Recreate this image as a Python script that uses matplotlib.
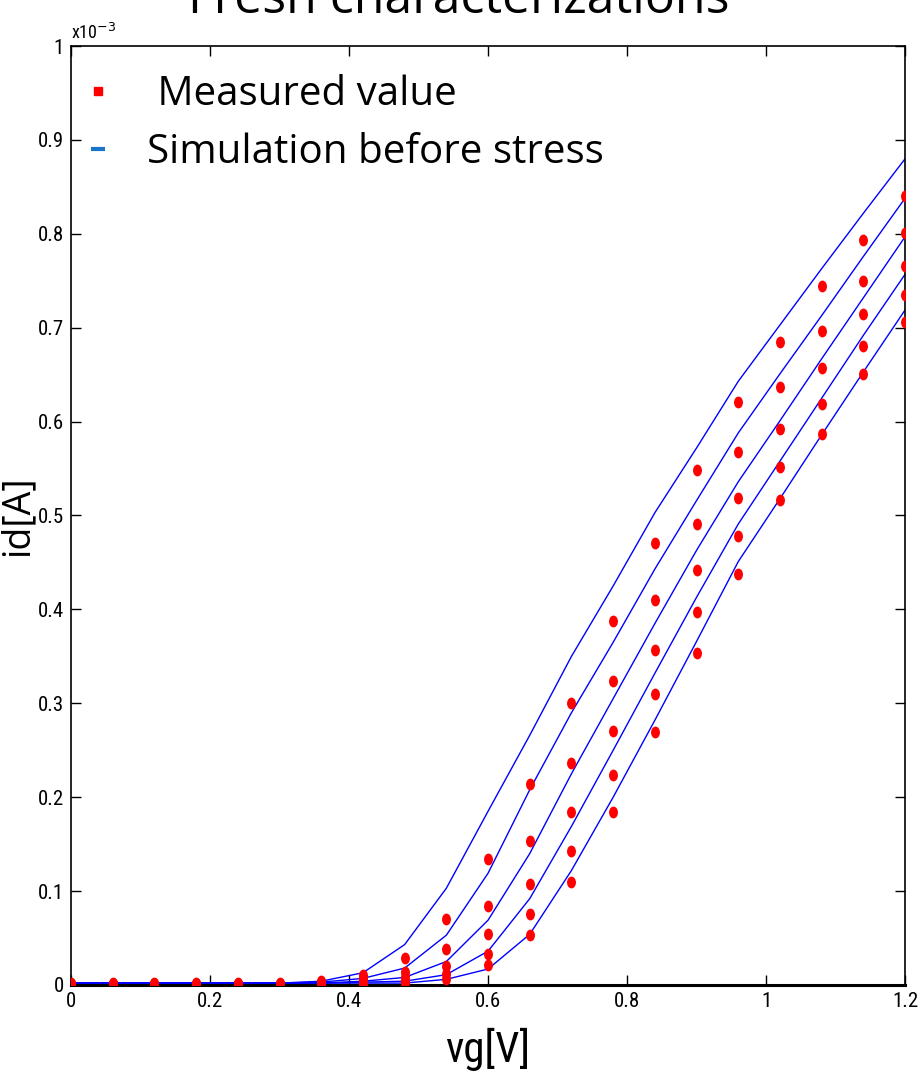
# id-vg curves: measured points vs simulation before stress
import matplotlib
matplotlib.use("Agg")
import matplotlib.pyplot as plt
from matplotlib.lines import Line2D
from matplotlib.path import Path
from matplotlib.transforms import Affine2D
from matplotlib.ticker import FuncFormatter, MultipleLocator

# gate voltage samples [V]
vg = [0.0, 0.06, 0.12, 0.18, 0.24, 0.30, 0.36, 0.42, 0.48, 0.54, 0.60,
      0.66, 0.72, 0.78, 0.84, 0.90, 0.96, 1.02, 1.08, 1.14, 1.20]

# measured drain current, in mA (scaled to A below)
meas_1 = [0.002, 0.002, 0.002, 0.002, 0.002, 0.002, 0.004, 0.011, 0.029, 0.070, 0.134,
          0.214, 0.300, 0.388, 0.471, 0.548, 0.621, 0.685, 0.744, 0.793, 0.840]
meas_2 = [0.0015, 0.0015, 0.0015, 0.0015, 0.0015, 0.0015, 0.003, 0.007, 0.014, 0.038, 0.084,
          0.153, 0.236, 0.324, 0.410, 0.491, 0.568, 0.637, 0.697, 0.750, 0.801]
meas_3 = [0.001, 0.001, 0.001, 0.001, 0.001, 0.001, 0.002, 0.004, 0.009, 0.020, 0.054,
          0.108, 0.184, 0.270, 0.357, 0.442, 0.519, 0.592, 0.657, 0.715, 0.766]
meas_4 = [0.001, 0.001, 0.001, 0.001, 0.001, 0.001, 0.001, 0.002, 0.004, 0.012, 0.033,
          0.076, 0.143, 0.224, 0.310, 0.397, 0.478, 0.552, 0.619, 0.680, 0.735]
meas_5 = [0.0005, 0.0005, 0.0005, 0.0005, 0.0005, 0.0005, 0.001, 0.001, 0.002, 0.006, 0.021,
          0.053, 0.110, 0.184, 0.269, 0.354, 0.438, 0.516, 0.587, 0.651, 0.706]

# simulated drain current before stress, in mA
sim_1 = [0.002, 0.002, 0.002, 0.002, 0.002, 0.002, 0.004, 0.013, 0.043, 0.103, 0.185,
         0.266, 0.350, 0.425, 0.503, 0.572, 0.643, 0.703, 0.763, 0.822, 0.880]
sim_2 = [0.002, 0.002, 0.002, 0.002, 0.002, 0.002, 0.003, 0.007, 0.018, 0.053, 0.119,
         0.208, 0.290, 0.365, 0.443, 0.516, 0.588, 0.651, 0.713, 0.776, 0.838]
sim_3 = [0.002, 0.002, 0.002, 0.002, 0.002, 0.002, 0.002, 0.004, 0.008, 0.025, 0.069,
         0.140, 0.225, 0.305, 0.385, 0.463, 0.536, 0.601, 0.667, 0.732, 0.797]
sim_4 = [0.002, 0.002, 0.002, 0.002, 0.002, 0.002, 0.002, 0.003, 0.004, 0.011, 0.036,
         0.092, 0.169, 0.250, 0.332, 0.413, 0.491, 0.558, 0.625, 0.692, 0.757]
sim_5 = [0.002, 0.002, 0.002, 0.002, 0.002, 0.002, 0.002, 0.002, 0.002, 0.006, 0.017,
         0.054, 0.122, 0.200, 0.282, 0.366, 0.451, 0.518, 0.586, 0.653, 0.719]

measured = [meas_1, meas_2, meas_3, meas_4, meas_5]
simulated = [sim_1, sim_2, sim_3, sim_4, sim_5]

narrow = ["Roboto Condensed", "Liberation Sans Narrow", "DejaVu Sans"]
legend_font = ["Open Sans", "DejaVu Sans"]

fig = plt.figure(figsize=(9.18, 10.78), dpi=100)
ax = fig.add_axes([0.0773, 0.0863, 0.9087, 0.871])

# slightly tall ellipse for the measured dots
dot = Path.unit_circle().transformed(Affine2D().scale(0.72, 1.0))

for s in simulated:
    ax.plot(vg, [v * 1e-3 for v in s], color="#0000ff", lw=1.0, zorder=2)
for m in measured:
    ax.plot(vg, [v * 1e-3 for v in m], ls="none", marker=dot, markersize=7.5,
            color="red", mec="red", zorder=3)

ax.set_xlim(0, 1.2)
ax.set_ylim(0, 1e-3)
ax.xaxis.set_major_locator(MultipleLocator(0.2))
ax.yaxis.set_major_locator(MultipleLocator(1e-4))
ax.xaxis.set_major_formatter(FuncFormatter(lambda v, p: f"{v:g}"))
ax.yaxis.set_major_formatter(FuncFormatter(lambda v, p: f"{round(v * 1e3, 1):g}"))
ax.tick_params(direction="in", top=True, right=True, length=7, width=1,
               labelsize=15, pad=5)
for lab in ax.get_xticklabels() + ax.get_yticklabels():
    lab.set_family(narrow)
    lab.set_stretch("condensed")
for side in ["top", "right", "left"]:
    ax.spines[side].set_linewidth(1.2)
ax.spines["bottom"].set_linewidth(2.2)

ax.text(0.0, 1.003, "x10$^{-3}$", transform=ax.transAxes, fontsize=13,
        family=narrow, stretch="condensed", ha="left", va="bottom")

ax.set_xlabel("vg[V]", fontsize=31, family=narrow, stretch="condensed", labelpad=12)
ax.set_ylabel("id[A]", fontsize=27, family=legend_font)
ax.yaxis.set_label_coords(-0.041, 0.5)

fig.text(0.5, 1.0, "Fresh characterizations", fontsize=36, family=legend_font,
         ha="center", va="center")

handles = [
    Line2D([], [], ls="none", marker="s", markersize=6, color="red"),
    Line2D([], [], ls="none", marker="_", markersize=10, mew=3, color="#1a75c8"),
]
ax.legend(handles, [" Measured value", "Simulation before stress"],
          loc="upper left", bbox_to_anchor=(-0.03, 1.0), frameon=False,
          prop={"family": legend_font, "size": 29},
          handletextpad=0.6, labelspacing=0.45, handlelength=1.2,
          borderaxespad=0.3)

fig.savefig("out.png", dpi=100)
